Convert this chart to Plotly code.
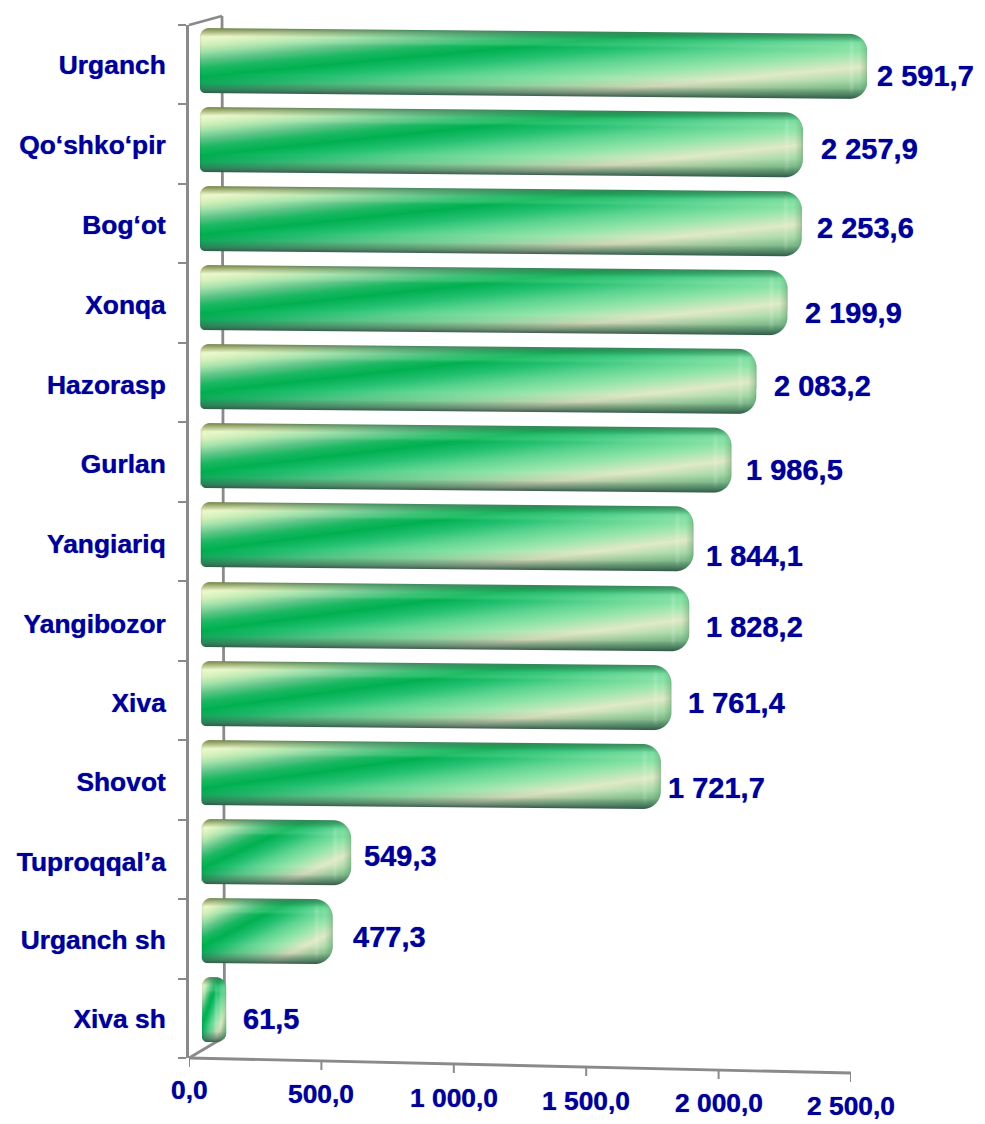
import numpy as np
import plotly.graph_objects as go

# ---------- data ----------
categories = ["Urganch", "Qo‘shko‘pir", "Bog‘ot", "Xonqa", "Hazorasp", "Gurlan", "Yangiariq",
              "Yangibozor", "Xiva", "Shovot", "Tuproqqal’a", "Urganch sh", "Xiva sh"]
values = [2591.7, 2257.9, 2253.6, 2199.9, 2083.2, 1986.5, 1844.1,
          1828.2, 1761.4, 1721.7, 549.3, 477.3, 61.5]
value_labels = ["2 591,7", "2 257,9", "2 253,6", "2 199,9", "2 083,2", "1 986,5", "1 844,1",
                "1 828,2", "1 761,4", "1 721,7", "549,3", "477,3", "61,5"]
x_tick_values = [0, 500, 1000, 1500, 2000, 2500]
x_tick_labels = ["0,0", "500,0", "1 000,0", "1 500,0", "2 000,0", "2 500,0"]

# ---------- layout constants (pixels of the 985x1124 page) ----------
W, H = 985, 1124
X_MAX = 2500
INK = "#000096"
AXIS = "#8a8a8a"
FONT = "Liberation Sans"
GLOW = "0 0 1px rgba(0,0,150,0.75)"
label_xshift = [8, 16.6, 13.7, 16.1, 16.2, 14, 12, 16, 16, 6.7, 15.4, 23.7, 24.6]
label_yshift = [15.5, 9.4, 9.3, 15.3, 9.2, 14.1, 21, 13, 9.9, 15.8, 4.7, 6.6, 9.5]
cat_label_nudge = [0, 1, 1.5, 1.5, 2, 2, 2.5, 2.5, 2.5, 2, 2, 1, 0.5]
x_label_y = [1090, 1094, 1098, 1101, 1103, 1106]

BAR_PX_L, BAR_PX_R = 200, 867      # back plane: 0 .. 2500
ROW0, ROW_STEP = 60.5, 79.08       # bar row centres
BAR_H = 65
TILT = 6 / 667
PX = (BAR_PX_R - BAR_PX_L) / X_MAX
FRONT_L, FRONT_R = 189, 851        # front plane: 0 .. 2500
FRONT_T, FRONT_B = 25, 1058
AX_Y0, AX_Y1 = 1058, 1073          # the tilted value axis
LINE_W = 2.8


def hex3(c):
    return np.array([int(c[i:i + 2], 16) for i in (1, 3, 5)], float)


G_P = [0.0, 0.17, 0.26, 0.36, 0.5, 0.62, 0.75, 0.92, 1.1, 1.3, 1.55, 1.75, 2.05]
G_C = np.array([hex3(c) for c in
                ["#dbe8a6", "#f2f8cc", "#d5efb8", "#a6e2ac", "#5cc486", "#1cb862", "#00b050", "#22c070",
                 "#5cd490", "#8fe4a8", "#e0e9c6", "#a4d8a6", "#5cb07c"]], float)
LIP = hex3("#bdf2c6")
OLIVE, TOP_DARK, BOTTOM_DARK, CAP_DARK = hex3("#69783a"), hex3("#3d8058"), hex3("#2f5444"), hex3("#4a8a5c")


def bar_image(length):
    """Cylinder shading painted over a rounded, slightly tilted bar of `length` pixels."""
    n = int(np.ceil(length)) + 2
    drop = TILT * n
    rows_px = int(BAR_H + drop + 4)
    X, Y = np.meshgrid(np.arange(n) + 0.5, np.arange(rows_px) + 0.5)
    Yt = Y - 2 - TILT * X
    t = Yt / BAR_H
    u = X / length
    p = t + 1.05 * u
    img = np.stack([np.interp(p, G_P, G_C[:, k]) for k in range(3)], axis=-1)

    # soft lit band under the top edge, shaded band above the bottom edge
    lip = np.interp(t, [.05, .12, .2, .25], [0, .14, .2, 0])[..., None]
    img = img * (1 - lip) + LIP * lip
    img = img * np.interp(t, [.72, .86], [1, .9])[..., None]

    # top and bottom roll-off
    top_w = np.interp(t, [0, .04, .13], [.9, .6, 0])[..., None]
    bot_w = np.interp(t, [.84, .95, 1], [0, .55, .92])[..., None]
    olive_mix = np.clip(u * 3, 0, 1)[..., None]
    top_col = OLIVE * (1 - olive_mix) + TOP_DARK * olive_mix
    img = img * (1 - top_w) + top_col * top_w
    img = img * (1 - bot_w) + BOTTOM_DARK * bot_w

    # right end cap
    cap = min(16.0, length * 0.42)
    d = (length - X) / cap
    seam = np.exp(-((d - 1.0) / 0.13) ** 2) * 0.15
    seam = seam * np.clip((t - .05) * 8, 0, 1) * np.clip((.95 - t) * 8, 0, 1)
    img = img + (255 - img) * seam[..., None]
    end_w = np.interp(d, [0, .12, .5, 1], [.5, .28, 0, 0])[..., None]
    img = img * (1 - end_w) + CAP_DARK * end_w
    img = img * np.interp(X, [0, 2, 5], [.92, 1, 1])[..., None]

    r_tl, r_bl = min(9.0, length * .4), min(5.0, length * .3)
    r_r = min(18.0, length * .42)
    alpha = np.clip(np.minimum.reduce([X, length - X, Yt, BAR_H - Yt]) + .5, 0, 1)
    for cx, cy, r in ((X, Yt, r_tl), (X, BAR_H - Yt, r_bl),
                      (length - X, Yt, r_r), (length - X, BAR_H - Yt, r_r)):
        mask = (cx < r) & (cy < r)
        dist = r - np.hypot(r - cx, r - cy)
        alpha = np.where(mask, np.minimum(alpha, np.clip(dist + .5, 0, 1)), alpha)
    return np.dstack([np.clip(img, 0, 255), alpha * 255]).round().astype(int)


rows = list(range(len(categories)))
fig = go.Figure()

# real bars, underneath the shaded bodies
fig.add_trace(go.Bar(y=rows, x=values, orientation="h", width=0.3, marker_color="#00b050",
                     xaxis="x", yaxis="y", showlegend=False, hoverinfo="skip"))

# shaded bodies placed by the value axis
du = X_MAX / (BAR_PX_R - BAR_PX_L)
dv = 1 / ROW_STEP
for r, v in zip(rows, values):
    data_len = min(v, X_MAX) * PX
    overhang = max(0.0, 8 - data_len / 25) + 0.5
    base = -0.5 + 0.21 * r
    z = bar_image(data_len + overhang)
    fig.add_trace(go.Image(z=z.tolist(), colormodel="rgba256",
                           x0=base * du + du / 2, dx=du,
                           y0=r - (BAR_H / 2 + 2) * dv + dv / 2, dy=dv,
                           xaxis="x3", yaxis="y3", hoverinfo="skip"))

# front-plane category axis (real axis line, ticks and labels)
fig.add_trace(go.Scatter(x=values, y=rows, mode="markers", marker=dict(opacity=0),
                         xaxis="x2", yaxis="y2", showlegend=False, hoverinfo="skip"))

bar_dom_y = [1 - (ROW0 + ROW_STEP * 12.5) / H, 1 - (ROW0 - ROW_STEP * 0.5) / H]
hidden = dict(visible=False, fixedrange=True)
row_range = [rows[-1] + 0.5, rows[0] - 0.5]
front_step = (FRONT_B - FRONT_T) / len(rows)

fig.update_layout(
    width=W, height=H, margin=dict(l=0, r=0, t=0, b=0),
    paper_bgcolor="white", plot_bgcolor="rgba(0,0,0,0)", showlegend=False,
    # the plain bars start 3 px inside the shaded body, so none of them shows at the left edge
    xaxis=dict(domain=[BAR_PX_L / W, BAR_PX_R / W], range=[-3 / PX, X_MAX], **hidden),
    yaxis=dict(domain=bar_dom_y, range=row_range, **hidden),
    xaxis3=dict(overlaying="x", range=[0, X_MAX], **hidden),
    yaxis3=dict(overlaying="y", range=row_range, **hidden),
    xaxis2=dict(domain=[FRONT_L / W, FRONT_R / W], range=[0, X_MAX], anchor="y2", **hidden),
    yaxis2=dict(domain=[1 - FRONT_B / H, 1 - FRONT_T / H], anchor="x2", range=row_range,
                tickmode="array", ticktext=categories,
                tickvals=[r + n / front_step for r, n in zip(rows, cat_label_nudge)],
                showline=True, linecolor=AXIS, linewidth=LINE_W, ticks="", ticklabelstandoff=15,
                minor=dict(tickmode="array", tickvals=[r - 0.5 for r in rows] + [rows[-1] + 0.5],
                           ticks="outside", ticklen=8, tickcolor=AXIS, tickwidth=2, showgrid=False),
                showgrid=False, zeroline=False, fixedrange=True,
                tickfont=dict(family=FONT, size=26.4, color=INK, weight=700, shadow=GLOW)),
)

shapes = []


def pline(x0, y0, x1, y1):
    shapes.append(dict(type="line", xref="paper", yref="paper", layer="below",
                       x0=x0 / W, x1=x1 / W, y0=1 - y0 / H, y1=1 - y1 / H,
                       line=dict(color=AXIS, width=LINE_W)))


pline(FRONT_L, FRONT_T, 222, 16)        # top of the side wall
pline(222, 16, 224.5, 1037)             # back edge
pline(FRONT_L, FRONT_B, 224.5, 1037)    # floor edge

# tilted value axis, ticks placed from the value scale
axis_y = lambda val: AX_Y0 + (AX_Y1 - AX_Y0) * val / X_MAX
shapes.append(dict(type="line", xref="x2", yref="paper", layer="below", x0=0, x1=X_MAX,
                   y0=1 - axis_y(0) / H, y1=1 - axis_y(X_MAX) / H,
                   line=dict(color=AXIS, width=LINE_W)))
for val in x_tick_values:
    shapes.append(dict(type="line", xref="x2", yref="paper", layer="below", x0=val, x1=val,
                       y0=1 - axis_y(val) / H, y1=1 - (axis_y(val) + 9) / H,
                       line=dict(color=AXIS, width=2)))
fig.update_layout(shapes=shapes)

anns = []
for r, v, txt, xs, ys in zip(rows, values, value_labels, label_xshift, label_yshift):
    anns.append(dict(x=min(v, X_MAX), y=r, xref="x3", yref="y", text=txt, showarrow=False,
                     xanchor="left", yanchor="middle", xshift=xs, yshift=-ys, align="left",
                     font=dict(family=FONT, size=29, color=INK, weight=700, shadow=GLOW)))
for val, txt, py in zip(x_tick_values, x_tick_labels, x_label_y):
    anns.append(dict(x=val, y=1 - py / H, xref="x2", yref="paper", text=txt, showarrow=False,
                     xanchor="center", yanchor="middle",
                     font=dict(family=FONT, size=26.4, color=INK, weight=700, shadow=GLOW)))
fig.update_layout(annotations=anns)

fig.write_html("out.html", config={"displayModeBar": False},
               post_script="document.body.style.margin='0';document.body.style.overflow='hidden';")
